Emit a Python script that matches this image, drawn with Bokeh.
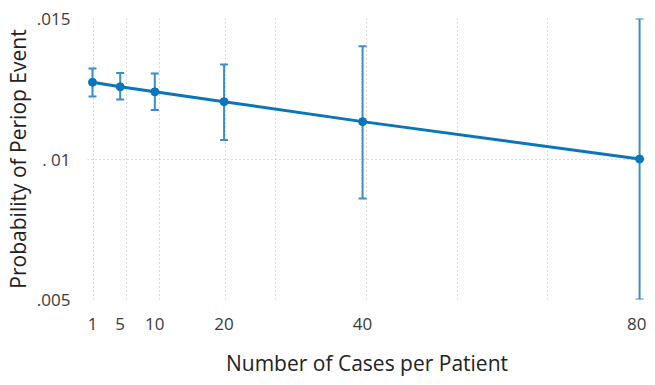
from bokeh.plotting import figure
from bokeh.models import ColumnDataSource, Whisker, TeeHead, FixedTicker
from bokeh.embed import file_html
from bokeh.resources import INLINE

# Data
cases = [1, 5, 10, 20, 40, 80]
prob = [0.01273, 0.01257, 0.01239, 0.01204, 0.01133, 0.01000]
upper = [0.01322, 0.01306, 0.01304, 0.01336, 0.01401, 0.01500]
lower = [0.01222, 0.01212, 0.01174, 0.01068, 0.00859, 0.00500]

x_ticks = [1, 5, 10, 20, 40, 80]
y_ticks = [0.005, 0.01, 0.015]
y_tick_labels = [".005", ". 01", ".015"]
x_grid = [1.1, 5.9, 10.7, 20.2, 27.4, 40.5, 53.7, 66.7]

BLUE = "#0a76b8"
BAR = "#3a8fc8"
FONT = "Open Sans"

src = ColumnDataSource(dict(x=cases, y=prob, upper=upper, lower=lower))

p = figure(frame_width=559, frame_height=281, output_backend="svg", toolbar_location=None,
           x_range=(0.28, 81.0), y_range=(0.005, 0.015),
           min_border_left=80, min_border_right=0, min_border_top=18,
           min_border_bottom=80)
p.outline_line_color = None
p.background_fill_color = "#ffffff"
p.border_fill_color = "#ffffff"

# grid
p.xgrid.ticker = FixedTicker(ticks=x_grid)
p.ygrid.ticker = FixedTicker(ticks=y_ticks)
for g in (p.xgrid, p.ygrid):
    g.grid_line_color = "#b5b5b5"
    g.grid_line_dash = "1 3"
    g.grid_line_width = 1

# axes
p.xaxis.ticker = FixedTicker(ticks=x_ticks)
p.yaxis.ticker = FixedTicker(ticks=y_ticks)
p.yaxis.major_label_overrides = {t: l for t, l in zip(y_ticks, y_tick_labels)}
for ax in (p.xaxis, p.yaxis):
    ax.axis_line_color = None
    ax.major_tick_line_color = None
    ax.minor_tick_line_color = None
    ax.major_label_text_font = FONT
    ax.major_label_text_font_size = "17px"
    ax.major_label_text_color = "#3a3a3a"
    ax.axis_label_text_font = FONT
    ax.axis_label_text_font_size = "21px"
    ax.axis_label_text_font_style = "normal"
    ax.axis_label_text_color = "#222222"
p.xaxis.axis_label = "Number of Cases per Patient"
p.yaxis.axis_label = "Probability of Periop Event"
p.xaxis.major_label_standoff = 12
p.xaxis.axis_label_standoff = 16
p.yaxis.major_label_standoff = 11
p.yaxis.axis_label_standoff = 2
p.yaxis.major_label_orientation = "horizontal"

# error bars
w = Whisker(source=src, base="x", upper="upper", lower="lower",
            line_color=BAR, line_width=2,
            upper_head=TeeHead(size=8, line_color=BAR, line_width=2),
            lower_head=TeeHead(size=8, line_color=BAR, line_width=2))
p.add_layout(w)

p.line("x", "y", source=src, line_color=BLUE, line_width=3)
p.scatter("x", "y", source=src, size=8, color=BLUE)

open("out.html", "w").write(file_html(p, INLINE))
